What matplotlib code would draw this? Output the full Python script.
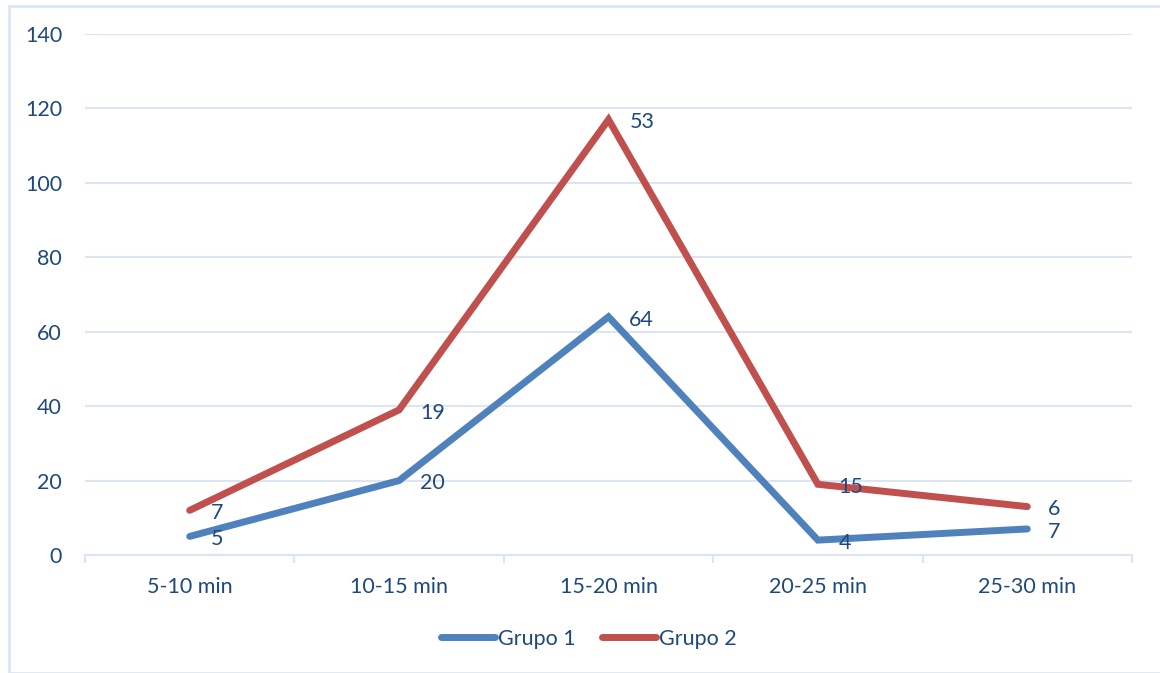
import matplotlib.pyplot as plt
import matplotlib.patheffects as pe
from matplotlib.patches import Rectangle
import numpy as np

categories = ["5-10 min", "10-15 min", "15-20 min", "20-25 min", "25-30 min"]
grupo1 = [5, 20, 64, 4, 7]
grupo2 = [7, 19, 53, 15, 6]
series_names = ["Grupo 1", "Grupo 2"]
y_ticks = [0, 20, 40, 60, 80, 100, 120, 140]

plt.rcParams['font.family'] = ['Lato', 'DejaVu Sans']
text_color = "#1F497D"
grid_color = "#DCE6F2"
colors = ["#4F81BD", "#C0504D"]
fs = 15.5

fig = plt.figure(figsize=(11.6, 6.73), dpi=100)
ax = fig.add_axes([85 / 1160, 1 - 555 / 673, (1132 - 85) / 1160, (555 - 34) / 673])

# chart area border
fig.patches.append(Rectangle((9 / 1160, 0), 1.0, 1 - 6 / 673, transform=fig.transFigure,
                             fill=False, edgecolor=grid_color, linewidth=2, zorder=0))

x = np.arange(len(categories))
g1 = np.array(grupo1)
g2_stacked = g1 + np.array(grupo2)

shadow = [pe.SimpleLineShadow(offset=(1.5, -1.5), shadow_color="black", alpha=0.25),
          pe.Normal()]

for vals, raw, col, name in [(g1, grupo1, colors[0], series_names[0]),
                             (g2_stacked, grupo2, colors[1], series_names[1])]:
    ax.plot(x, vals, color=col, linewidth=5, solid_capstyle="round",
            solid_joinstyle="miter", label=name, path_effects=shadow, zorder=3)
    for xi, yi, lab in zip(x, vals, raw):
        ax.annotate(str(lab), (xi, yi), xytext=(15, -2), textcoords="offset points",
                    ha="left", va="center", fontsize=fs, color=text_color, zorder=4)

ax.set_xlim(-0.5, len(categories) - 0.5)
ax.set_ylim(0, 140)
ax.set_yticks(y_ticks)
ax.yaxis.grid(True, color=grid_color, linewidth=1.5)
ax.set_axisbelow(True)

ax.set_xticks(x)
ax.set_xticklabels(categories)
ax.set_xticks(np.arange(-0.5, len(categories)), minor=True)
ax.tick_params(axis="x", which="major", length=0, pad=16, labelsize=fs, labelcolor=text_color)
ax.tick_params(axis="x", which="minor", length=6, width=1.5, color=grid_color, direction="out")
ax.tick_params(axis="y", length=0, pad=16.5, labelsize=fs, labelcolor=text_color)

for side in ["top", "right", "left"]:
    ax.spines[side].set_visible(False)
ax.spines["bottom"].set_color(grid_color)
ax.spines["bottom"].set_linewidth(1.5)

handles, labels = ax.get_legend_handles_labels()
for h in handles:
    h.set_path_effects([])
leg = fig.legend(handles, labels, loc="center", bbox_to_anchor=(589 / 1160, 1 - 639 / 673),
                 ncol=2, frameon=False, fontsize=fs, handlelength=2.5,
                 handletextpad=0.15, columnspacing=1.2, labelcolor=text_color)

fig.savefig("out.png", dpi=100, facecolor="white")
